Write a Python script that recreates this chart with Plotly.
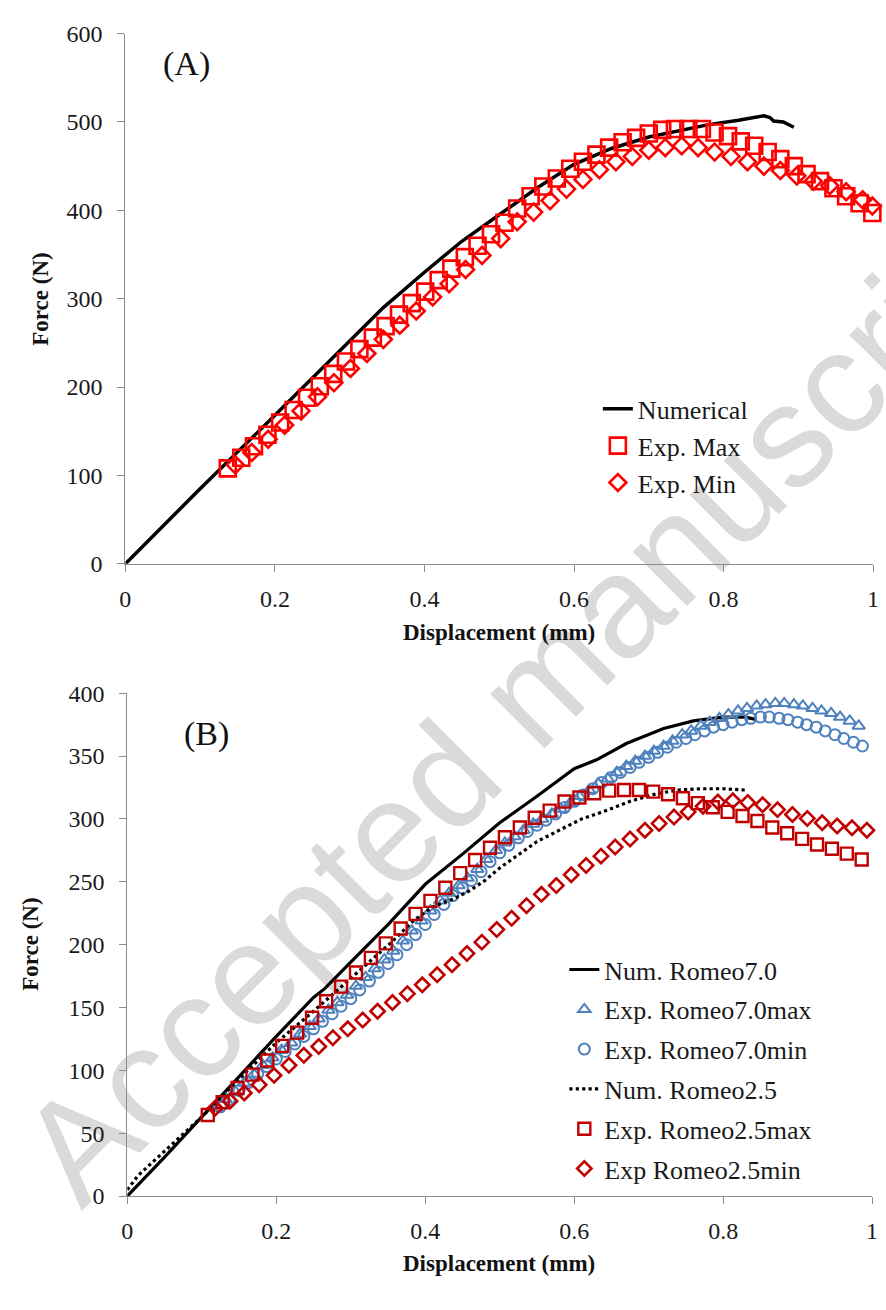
import plotly.graph_objects as go

# ---------------- Panel A data ----------------
numA_x = [0, 0.1, 0.2, 0.3, 0.345, 0.4, 0.45, 0.5, 0.55, 0.6, 0.65, 0.7, 0.75, 0.78, 0.82, 0.854, 0.862, 0.867, 0.88, 0.894]
numA_y = [0, 85, 168, 252, 290, 330, 365, 395, 425, 452, 470, 483, 492, 497, 502, 507, 505, 501, 500, 494]

maxA_x = [0.137, 0.155, 0.172, 0.190, 0.207, 0.225, 0.243, 0.260, 0.278, 0.295, 0.313, 0.331, 0.348, 0.366, 0.383,
          0.401, 0.419, 0.436, 0.454, 0.471, 0.489, 0.507, 0.524, 0.542, 0.559, 0.577, 0.595, 0.612, 0.630, 0.647,
          0.665, 0.683, 0.700, 0.718, 0.735, 0.753, 0.771, 0.788, 0.806, 0.823, 0.841, 0.859, 0.876, 0.894, 0.911,
          0.929, 0.947, 0.964, 0.982, 0.999]
maxA_y = [108, 120, 133, 146, 160, 174, 188, 201, 215, 229, 243, 256, 269, 282, 295,
          308, 321, 334, 347, 360, 373, 386, 402, 416, 427, 436, 447, 455, 463, 471,
          477, 482, 487, 491, 492, 492, 492, 488, 484, 478, 473, 466, 458, 450, 441,
          433, 425, 416, 408, 397]

minA_x = [0.147, 0.169, 0.191, 0.213, 0.235, 0.257, 0.279, 0.301, 0.323, 0.345, 0.367, 0.389, 0.411, 0.433, 0.455,
          0.477, 0.502, 0.524, 0.546, 0.568, 0.590, 0.612, 0.634, 0.656, 0.678, 0.700, 0.722, 0.744, 0.766, 0.788,
          0.810, 0.832, 0.854, 0.876, 0.898, 0.920, 0.942, 0.964, 0.986, 0.999]
minA_y = [112, 126, 141, 157, 173, 189, 205, 221, 238, 254, 270, 286, 302, 317, 333,
          349, 368, 387, 398, 411, 424, 435, 446, 455, 461, 468, 471, 473, 471, 466,
          461, 455, 450, 445, 439, 433, 428, 421, 412, 405]

# ---------------- Panel B data ----------------
num70_x = [0, 0.05, 0.1, 0.15, 0.2, 0.25, 0.265, 0.3, 0.35, 0.4, 0.45, 0.5, 0.55, 0.6, 0.63, 0.67, 0.72, 0.76, 0.8, 0.83, 0.845]
num70_y = [0, 31, 63, 95, 127, 158, 165, 186, 216, 248, 272, 297, 318, 340, 347, 360, 372, 378, 381, 381, 379]

max70_x = [0.120, 0.132, 0.145, 0.157, 0.170, 0.182, 0.195, 0.207, 0.220, 0.232, 0.245, 0.257, 0.270, 0.282,
           0.295, 0.307, 0.320, 0.332, 0.345, 0.357, 0.370, 0.382, 0.395, 0.407, 0.420, 0.432, 0.445, 0.457,
           0.470, 0.482, 0.495, 0.507, 0.520, 0.532, 0.545, 0.557, 0.570, 0.582, 0.595, 0.607, 0.620, 0.632,
           0.645, 0.657, 0.670, 0.682, 0.695, 0.707, 0.720, 0.732, 0.745, 0.757, 0.770, 0.782, 0.795, 0.807,
           0.820, 0.832, 0.845, 0.857, 0.870, 0.882, 0.895, 0.907, 0.920, 0.932, 0.945, 0.957, 0.970, 0.982]
max70_y = [70, 77, 83, 90, 97, 104, 110, 116, 122, 129, 135, 141, 148, 154,
           160, 167, 174, 181, 188, 195, 203, 211, 219, 227, 235, 241, 247, 253,
           260, 268, 275, 281, 286, 291, 296, 300, 304, 308, 313, 318, 323, 328,
           332, 337, 342, 346, 350, 354, 358, 362, 367, 370, 374, 377, 380, 383,
           386, 388, 390, 391, 392, 392, 391, 390, 388, 386, 384, 381, 378, 374]

min70_x = [0.125, 0.137, 0.150, 0.162, 0.175, 0.187, 0.200, 0.212, 0.225, 0.237, 0.250, 0.262, 0.275, 0.287,
           0.300, 0.312, 0.325, 0.337, 0.350, 0.362, 0.375, 0.387, 0.400, 0.412, 0.425, 0.437, 0.450, 0.462,
           0.475, 0.487, 0.500, 0.512, 0.525, 0.537, 0.550, 0.562, 0.575, 0.587, 0.600, 0.612, 0.625, 0.637,
           0.650, 0.662, 0.675, 0.687, 0.700, 0.712, 0.725, 0.737, 0.750, 0.762, 0.775, 0.787, 0.800, 0.812,
           0.825, 0.837, 0.850, 0.862, 0.875, 0.887, 0.900, 0.912, 0.925, 0.937, 0.950, 0.962, 0.975, 0.987]
min70_y = [71, 77, 84, 90, 97, 103, 109, 115, 121, 127, 133, 139, 145, 151,
           157, 164, 171, 178, 185, 192, 200, 208, 216, 224, 232, 239, 245, 251,
           258, 266, 273, 279, 285, 290, 295, 299, 304, 309, 314, 319, 324, 329,
           333, 337, 341, 345, 349, 353, 357, 361, 364, 367, 370, 373, 375, 377,
           379, 380, 381, 381, 380, 379, 377, 375, 373, 370, 367, 364, 361, 358]

num25_x = [0, 0.014, 0.023, 0.034, 0.045, 0.054, 0.063, 0.074, 0.085, 0.1, 0.15, 0.2, 0.25, 0.292, 0.353, 0.384,
           0.41, 0.44, 0.46, 0.48, 0.5, 0.55, 0.61, 0.64, 0.675, 0.71, 0.74, 0.77, 0.8, 0.83]
num25_y = [5, 16, 21, 27, 33, 38, 43, 49, 55, 63, 93, 122, 147, 169, 201, 219,
           230, 237, 243, 251, 261, 282, 300, 306, 314, 320, 323, 324, 324, 323]

max25_x = [0.108, 0.128, 0.148, 0.168, 0.188, 0.208, 0.228, 0.248, 0.267, 0.287, 0.307, 0.327, 0.347, 0.367, 0.387,
           0.407, 0.427, 0.447, 0.467, 0.487, 0.507, 0.527, 0.547, 0.567, 0.587, 0.607, 0.627, 0.647, 0.667, 0.687,
           0.706, 0.726, 0.746, 0.766, 0.786, 0.806, 0.826, 0.846, 0.866, 0.886, 0.906, 0.926, 0.946, 0.966, 0.986]
max25_y = [64.5, 74.6, 86, 96.6, 107.8, 119.5, 130, 141.8, 155, 166.6, 177.8, 189.5, 201, 212.8, 224.5,
           234.8, 245.2, 256.9, 267.3, 277.1, 285.4, 293.2, 301, 306.6, 313.9, 317, 320.4, 322.5, 323, 323,
           321.7, 319.6, 316.5, 312.6, 309.3, 305.6, 302.3, 298.4, 293.2, 288.6, 284.1, 279.7, 276.3, 272.4, 267.7]

min25_x = [0.118, 0.138, 0.157, 0.177, 0.197, 0.217, 0.237, 0.257, 0.276, 0.296, 0.316, 0.336, 0.356, 0.376, 0.396,
           0.416, 0.436, 0.456, 0.476, 0.496, 0.516, 0.536, 0.556, 0.576, 0.596, 0.616, 0.636, 0.655, 0.675, 0.695,
           0.714, 0.734, 0.753, 0.773, 0.793, 0.813, 0.833, 0.853, 0.873, 0.893, 0.913, 0.933, 0.953, 0.973, 0.993]
min25_y = [70, 75.5, 82, 88.5, 96, 104, 112, 119, 126, 133, 140, 147, 154, 161, 168,
           176, 184, 193, 202, 212, 221, 231, 240, 247, 255.6, 263, 270.4, 277.6, 284, 291,
           296.3, 301.5, 305.6, 310, 313.4, 314.4, 313, 311.3, 307.4, 303.5, 300.4, 297, 294.4, 293, 291]

x_ticks = [0, 0.2, 0.4, 0.6, 0.8, 1]
yA_ticks = [0, 100, 200, 300, 400, 500, 600]
yB_ticks = [0, 50, 100, 150, 200, 250, 300, 350, 400]

SERIF = "Liberation Serif, Times New Roman, serif"
RED = "#ff0000"
DRED = "#c00000"
BLUE = "#4f81bd"
AX = "#8c8c8c"
TXT = "#1a1a1a"

fig = go.Figure()

# Panel A
fig.add_trace(go.Scatter(x=numA_x, y=numA_y, mode="lines", name="Numerical",
                         line=dict(color="black", width=3.5), xaxis="x", yaxis="y",
                         legend="legend", legendgroup="a1"))
fig.add_trace(go.Scatter(x=maxA_x, y=maxA_y, mode="markers", name="Exp. Max",
                         marker=dict(symbol="square-open", size=16, color=RED, line=dict(color=RED, width=2.6)),
                         xaxis="x", yaxis="y", legend="legend", legendgroup="a2", cliponaxis=False))
fig.add_trace(go.Scatter(x=minA_x, y=minA_y, mode="markers", name="Exp. Min",
                         marker=dict(symbol="diamond-open", size=13, color=RED, line=dict(color=RED, width=2.6)),
                         xaxis="x", yaxis="y", legend="legend", legendgroup="a3", cliponaxis=False))

# Panel B
fig.add_trace(go.Scatter(x=num70_x, y=num70_y, mode="lines", name="Num. Romeo7.0",
                         line=dict(color="black", width=3.2), xaxis="x2", yaxis="y2",
                         legend="legend2", legendgroup="b1"))
fig.add_trace(go.Scatter(x=max70_x, y=max70_y, mode="markers", name="Exp. Romeo7.0max",
                         marker=dict(symbol="triangle-up-open", size=11, color=BLUE, line=dict(color=BLUE, width=2)),
                         xaxis="x2", yaxis="y2", legend="legend2", legendgroup="b2", cliponaxis=False))
fig.add_trace(go.Scatter(x=min70_x, y=min70_y, mode="markers", name="Exp. Romeo7.0min",
                         marker=dict(symbol="circle-open", size=11, color=BLUE, line=dict(color=BLUE, width=2)),
                         xaxis="x2", yaxis="y2", legend="legend2", legendgroup="b3", cliponaxis=False))
fig.add_trace(go.Scatter(x=num25_x, y=num25_y, mode="lines", name="Num. Romeo2.5",
                         line=dict(color="black", width=3.2, dash="dot"), xaxis="x2", yaxis="y2",
                         legend="legend2", legendgroup="b4"))
fig.add_trace(go.Scatter(x=max25_x, y=max25_y, mode="markers", name="Exp. Romeo2.5max",
                         marker=dict(symbol="square-open", size=12, color=DRED, line=dict(color=DRED, width=2.4)),
                         xaxis="x2", yaxis="y2", legend="legend2", legendgroup="b5", cliponaxis=False))
fig.add_trace(go.Scatter(x=min25_x, y=min25_y, mode="markers", name="Exp Romeo2.5min",
                         marker=dict(symbol="diamond-open", size=11, color=DRED, line=dict(color=DRED, width=2.6)),
                         xaxis="x2", yaxis="y2", legend="legend2", legendgroup="b6", cliponaxis=False))

axis_common = dict(showline=True, linecolor=AX, linewidth=1.3, ticks="outside", ticklen=7,
                   tickcolor=AX, tickwidth=1.3, showgrid=False, zeroline=False,
                   tickfont=dict(family=SERIF, size=24, color=TXT))

W, H = 886, 1310
fig.update_layout(
    width=W, height=H, margin=dict(l=0, r=0, t=0, b=0),
    paper_bgcolor="white", plot_bgcolor="rgba(0,0,0,0)",
    xaxis=dict(domain=[121 / W, 879 / W], range=[0, 1], tickvals=x_ticks, anchor="y",
               ticklabelstandoff=6, **axis_common),
    yaxis=dict(domain=[1 - 562 / H, 1 - 21 / H], range=[0, 600], tickvals=yA_ticks, anchor="x",
               ticklabelstandoff=10, **axis_common),
    xaxis2=dict(domain=[123 / W, 878 / W], range=[0, 1], tickvals=x_ticks, anchor="y2",
                ticklabelstandoff=6, **axis_common),
    yaxis2=dict(domain=[1 - 1207 / H, 1 - 694 / H], range=[0, 400], tickvals=yB_ticks, anchor="x2",
                ticklabelstandoff=10, **axis_common),
    legend=dict(x=600 / W, y=1 - 380 / H, xanchor="left", yanchor="top", bgcolor="rgba(0,0,0,0)",
                font=dict(family=SERIF, size=26, color=TXT), tracegroupgap=0, traceorder="grouped"),
    legend2=dict(x=566 / W, y=1 - 952 / H, xanchor="left", yanchor="top", bgcolor="rgba(0,0,0,0)",
                 font=dict(family=SERIF, size=26, color=TXT), tracegroupgap=3, traceorder="grouped"),
    showlegend=True,
)


def add_text(text, px, py, size, angle=0):
    fig.add_annotation(text=text, x=px / W, y=1 - py / H, xref="paper", yref="paper",
                       xanchor="center", yanchor="middle", showarrow=False, textangle=angle,
                       font=dict(family=SERIF, size=size, color="#111111"))


add_text("(A)", 183, 52, 34)
add_text("(B)", 203, 736, 34)
add_text("<b>Force (N)</b>", 35, 292, 23, -90)
add_text("<b>Force (N)</b>", 24, 950, 23, -90)
add_text("<b>Displacement (mm)</b>", 500, 632, 23)
add_text("<b>Displacement (mm)</b>", 500, 1276, 23)

# watermark behind the data
cx, cy = 516 / W, 1 - 688 / H
fig.add_shape(type="rect", xref="paper", yref="paper", x0=cx - 0.3, x1=cx + 0.3, y0=cy - 0.2, y1=cy + 0.2,
              layer="below", line=dict(width=0), fillcolor="rgba(0,0,0,0)",
              label=dict(text="Accepted manuscript", textangle=-45, textposition="middle center",
                         font=dict(family="Liberation Sans, Arial, sans-serif", size=145, color="#dadada")))

fig.write_html("out.html")
